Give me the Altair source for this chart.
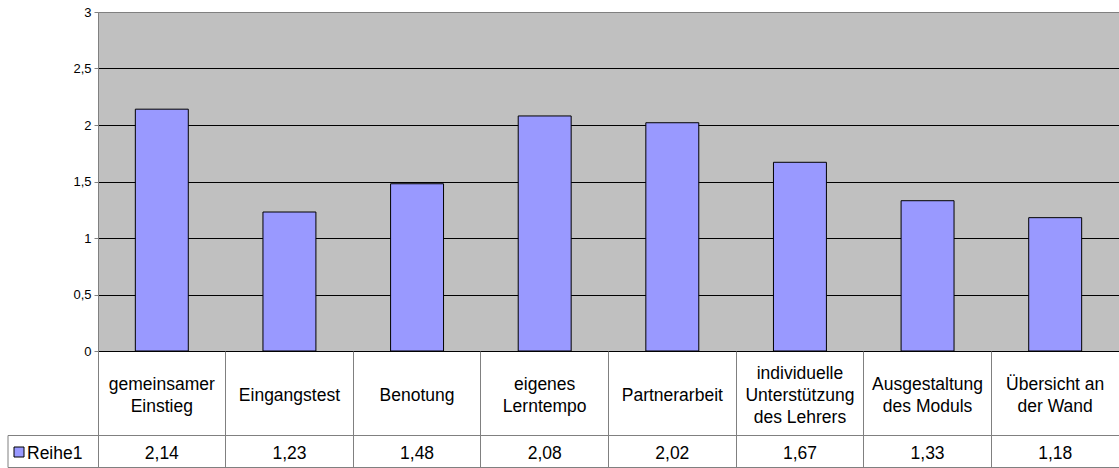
import altair as alt
import pandas as pd

categories = [
    "gemeinsamer\nEinstieg",
    "Eingangstest",
    "Benotung",
    "eigenes\nLerntempo",
    "Partnerarbeit",
    "individuelle\nUnterstützung\ndes Lehrers",
    "Ausgestaltung\ndes Moduls",
    "Übersicht an\nder Wand",
]
values = [2.14, 1.23, 1.48, 2.08, 2.02, 1.67, 1.33, 1.18]
y_ticks = [0, 0.5, 1, 1.5, 2, 2.5, 3]
series_name = "Reihe1"

df = pd.DataFrame({"cat": categories, "value": values})

W, H = 1021, 339
FONT = "Liberation Sans"
GRAY = "#808080"
TFS = 17.5

x_enc = alt.X(
    "cat:N",
    sort=categories,
    scale=alt.Scale(paddingInner=0, paddingOuter=0),
    axis=alt.Axis(
        title=None,
        labels=False,
        domain=False,
        ticks=True,
        tickSize=116,
        tickColor=GRAY,
        tickWidth=1,
        bandPosition=0,
        grid=False,
    ),
)

y_enc = alt.Y(
    "value:Q",
    scale=alt.Scale(domain=[0, 3], nice=False),
    axis=alt.Axis(
        title=None,
        values=y_ticks,
        labelExpr="replace(format(datum.value, '~g'), '.', ',')",
        labelFont=FONT,
        labelFontSize=13,
        labelColor="#000000",
        labelPadding=3,
        tickSize=4,
        tickColor=GRAY,
        domainColor=GRAY,
        grid=True,
        gridColor={"condition": {"test": "datum.value === 3", "value": GRAY}, "value": "#000000"},
        gridWidth=1,
    ),
)

bars = alt.Chart(df).mark_bar(
    width=alt.RelativeBandSize(0.415),
    color="#9999FF",
    stroke="#000000",
    strokeWidth=1,
).encode(x=x_enc, y=y_enc)

cat_text = alt.Chart(df).transform_calculate(
    n="length(split(datum.cat, '\\n'))",
).transform_calculate(
    off="datum.n >= 3 ? -22 : -(datum.n - 1) * 11",
).mark_text(
    font=FONT, fontSize=TFS, lineBreak="\n", lineHeight=22,
    align="center", baseline="middle", color="#000000",
).encode(
    x=alt.X("cat:N", sort=categories),
    y=alt.value(384),
    yOffset=alt.YOffset("off:Q", scale=None),
    text="cat:N",
)

val_text = alt.Chart(df).transform_calculate(
    lab="replace(format(datum.value, '.2f'), '.', ',')"
).mark_text(
    font=FONT, fontSize=TFS, align="center", baseline="middle", color="#000000",
).encode(
    x=alt.X("cat:N", sort=categories),
    y=alt.value(442),
    text="lab:N",
)

# table horizontal lines
hlines = alt.Chart(pd.DataFrame({"k": [0]})).mark_rule(color=GRAY, strokeWidth=1).encode(
    x=alt.value(-90), x2=alt.value(W), y=alt.value(423.5)
)
hlines2 = alt.Chart(pd.DataFrame({"k": [0]})).mark_rule(color=GRAY, strokeWidth=1).encode(
    x=alt.value(-90), x2=alt.value(W), y=alt.value(455.5)
)
vline = alt.Chart(pd.DataFrame({"k": [0]})).mark_rule(color=GRAY, strokeWidth=1).encode(
    x=alt.value(-90), y=alt.value(423.5), y2=alt.value(455.5)
)

legend_sq = alt.Chart(pd.DataFrame({"s": [series_name]})).mark_point(
    shape="square", filled=True, size=100, color="#9999FF", stroke="#000000", strokeWidth=1, opacity=1,
).encode(x=alt.value(-79), y=alt.value(440))

legend_txt = alt.Chart(pd.DataFrame({"s": [series_name]})).mark_text(
    font=FONT, fontSize=TFS, align="left", baseline="middle", color="#000000",
).encode(x=alt.value(-71), y=alt.value(442), text="s:N")

chart = alt.layer(
    bars, cat_text, val_text, hlines, hlines2, vline, legend_sq, legend_txt
).properties(
    width=W,
    height=H,
    autosize=alt.AutoSizeParams(type="none"),
    padding={"left": 98, "top": 12, "right": 0, "bottom": 117},
    background="#FFFFFF",
).configure_view(
    fill="#C0C0C0",
    stroke=None,
)

chart.save("out.html", embed_options={"renderer": "svg", "actions": False})
